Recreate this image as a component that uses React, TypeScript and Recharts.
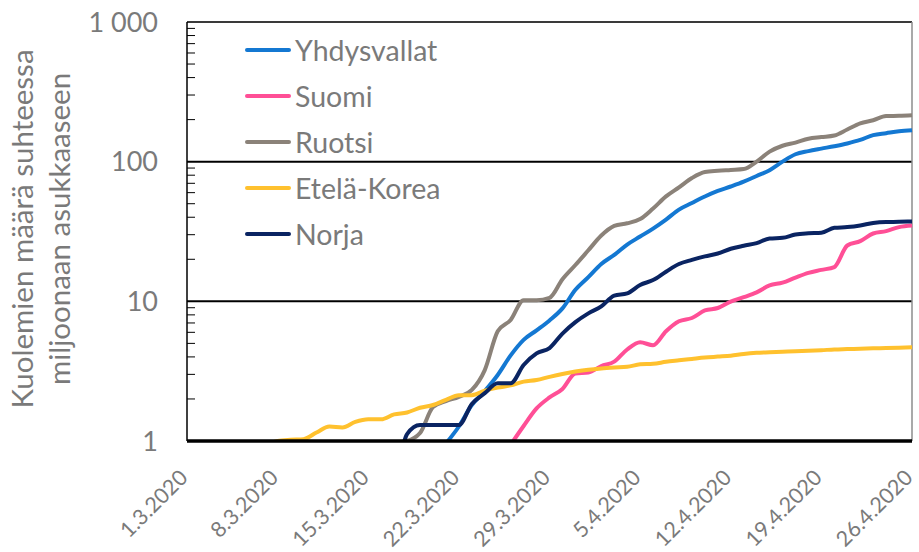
import { Legend, Line, LineChart, ReferenceLine, XAxis, YAxis } from 'recharts';

// Kuolemat miljoonaa asukasta kohden, 1.3.–26.4.2020 (luettu kuvasta)
const dates = [
  '1.3.2020', '2.3.2020', '3.3.2020', '4.3.2020', '5.3.2020', '6.3.2020', '7.3.2020',
  '8.3.2020', '9.3.2020', '10.3.2020', '11.3.2020', '12.3.2020', '13.3.2020', '14.3.2020',
  '15.3.2020', '16.3.2020', '17.3.2020', '18.3.2020', '19.3.2020', '20.3.2020', '21.3.2020',
  '22.3.2020', '23.3.2020', '24.3.2020', '25.3.2020', '26.3.2020', '27.3.2020', '28.3.2020',
  '29.3.2020', '30.3.2020', '31.3.2020', '1.4.2020', '2.4.2020', '3.4.2020', '4.4.2020',
  '5.4.2020', '6.4.2020', '7.4.2020', '8.4.2020', '9.4.2020', '10.4.2020', '11.4.2020',
  '12.4.2020', '13.4.2020', '14.4.2020', '15.4.2020', '16.4.2020', '17.4.2020', '18.4.2020',
  '19.4.2020', '20.4.2020', '21.4.2020', '22.4.2020', '23.4.2020', '24.4.2020', '25.4.2020',
  '26.4.2020',
];

const n = null;

const yhdysvallat = [
  n, n, n, n, n, n, n, n, n, n, n, n, n, n, n, n, n, n, n, n,
  0.96, 1.27, 1.81, 2.28, 2.97, 4.1, 5.3, 6.2, 7.3, 8.9,
  12.1, 14.9, 18.5, 21.5, 25.5, 29.1, 33.2, 38.5, 45.4, 50.6,
  56.3, 61.7, 66.4, 71.9, 79.0, 86.9, 100, 113, 119, 124,
  129, 135, 143, 155, 160, 165, 168,
];

const suomi = [
  n, n, n, n, n, n, n, n, n, n, n, n, n, n, n, n, n, n, n, n, n, n, n, n, n,
  0.94, 1.28, 1.71, 2.05, 2.36,
  3.04, 3.09, 3.44, 3.7, 4.52, 5.09, 4.85, 6.11, 7.2, 7.6,
  8.6, 8.96, 9.96, 10.7, 11.6, 13.0, 13.6, 14.8, 16.0, 16.8,
  17.6, 25.1, 27.0, 30.6, 31.8, 34.0, 34.9,
];

const ruotsi = [
  n, n, n, n, n, n, n, n, n, n, n, n, n, n, n, n,
  0.97, 1.0, 1.14, 1.75,
  1.93, 2.07, 2.32, 3.22, 6.1, 7.36, 10.2, 10.2, 10.6, 14.4,
  18.2, 23.2, 29.6, 34.7, 36.2, 38.8, 46.2, 56.4, 65.4, 76.3,
  84.3, 86.0, 87.2, 88.5, 100.2, 118, 130, 137, 146, 150,
  154, 170, 188, 198, 212, 213, 215,
];

const etelaKorea = [
  n, n, n, n, n, n,
  0.93, 1.0, 1.02, 1.03,
  1.15, 1.27, 1.25, 1.37, 1.43, 1.43, 1.55, 1.6, 1.73, 1.81,
  1.97, 2.13, 2.13, 2.29, 2.41, 2.5, 2.66, 2.73, 2.88, 3.02,
  3.14, 3.24, 3.31, 3.36, 3.4, 3.54, 3.57, 3.69, 3.78, 3.87,
  3.96, 4.02, 4.08, 4.2, 4.28, 4.32, 4.36, 4.4, 4.43, 4.47,
  4.52, 4.55, 4.58, 4.61, 4.63, 4.66, 4.69,
];

const norja = [
  n, n, n, n, n, n, n, n, n, n, n, n, n, n, n, n,
  0.37, 1.12, 1.3, 1.3,
  1.3, 1.3, 1.84, 2.2, 2.59, 2.59, 3.5, 4.24, 4.63, 5.88,
  7.1, 8.2, 9.2, 11.0, 11.4, 13.1, 14.2, 16.3, 18.5, 19.8,
  21.0, 22.0, 23.8, 25.0, 26.1, 28.2, 28.5, 30.1, 30.7, 31.0,
  33.6, 34.0, 34.9, 36.4, 37.0, 37.1, 37.3,
];

const yTicks = [
  1, 2, 3, 4, 5, 6, 7, 8, 9,
  10, 20, 30, 40, 50, 60, 70, 80, 90,
  100, 200, 300, 400, 500, 600, 700, 800, 900,
  1000,
];
const yLabels: Record<number, string> = { 1: '1', 10: '10', 100: '100', 1000: '1 000' };

const series = [
  { key: 'yhdysvallat', name: 'Yhdysvallat', color: '#1478d2', values: yhdysvallat },
  { key: 'suomi', name: 'Suomi', color: '#ff4f96', values: suomi },
  { key: 'ruotsi', name: 'Ruotsi', color: '#8b8279', values: ruotsi },
  { key: 'etelaKorea', name: 'Etelä-Korea', color: '#ffc12e', values: etelaKorea },
  { key: 'norja', name: 'Norja', color: '#0a2462', values: norja },
];

const rows = dates.map((date, i) => {
  const row: Record<string, string | number | null> = { date };
  series.forEach((s) => {
    row[s.key] = s.values[i];
  });
  return row;
});

const FONT = 'Lato, "Open Sans", sans-serif';
const TEXT = '#7a7a7a';

function YTick({ x, y, payload }: any) {
  const label = yLabels[payload.value];
  if (label) {
    return (
      <text x={x - 29} y={y} dy="0.36em" textAnchor="end" fill={TEXT} fontSize={27} fontFamily={FONT}>
        {label}
      </text>
    );
  }
  return <line x1={x} x2={x + 8} y1={y} y2={y} stroke="#000" strokeWidth={1} />;
}

function XTick({ x, y, payload }: any) {
  return (
    <text
      transform={`translate(${x + 2},${y + 38}) rotate(-45)`}
      textAnchor="end"
      fill={TEXT}
      fontSize={21.5}
      fontFamily={FONT}
    >
      {payload.value}
    </text>
  );
}

function YTitle() {
  return (
    <g fill={TEXT} fontSize={29.5} fontFamily={FONT}>
      <text transform="translate(33,229) rotate(-90)" textAnchor="middle">
        Kuolemien määrä suhteessa
      </text>
      <text transform="translate(70,229) rotate(-90)" textAnchor="middle">
        miljoonaan asukkaaseen
      </text>
    </g>
  );
}

function LegendBox() {
  return (
    <div style={{ fontFamily: FONT, fontSize: 28.5, color: TEXT }}>
      {series.map((s) => (
        <div key={s.key} style={{ display: 'flex', alignItems: 'center', height: 46 }}>
          <span style={{ width: 46, height: 4, background: s.color, borderRadius: 2 }} />
          <span style={{ marginLeft: 4, lineHeight: 1 }}>{s.name}</span>
        </div>
      ))}
    </div>
  );
}

export default function App() {
  return (
    <div style={{ position: 'absolute', left: 0, top: 0, background: '#fff' }}>
      <LineChart width={919} height={552} data={rows} margin={{ top: 22, right: 7, left: 0, bottom: 0 }}>
        <ReferenceLine y={10} stroke="#000" strokeWidth={2} />
        <ReferenceLine y={100} stroke="#000" strokeWidth={2} />
        <ReferenceLine y={1000} stroke="#3a3a3a" strokeWidth={2} />
        <ReferenceLine x="26.4.2020" stroke="#8c8c8c" strokeWidth={1.5} />
        {series.map((s) => (
          <Line
            key={s.key}
            dataKey={s.key}
            name={s.name}
            type="monotone"
            stroke={s.color}
            strokeWidth={4}
            dot={false}
            activeDot={false}
            isAnimationActive={false}
          />
        ))}
        <XAxis
          dataKey="date"
          interval={6}
          height={111}
          tickSize={0}
          tickMargin={0}
          tick={<XTick />}
          axisLine={{ stroke: '#000', strokeWidth: 3.5 }}
        />
        <YAxis
          scale="log"
          domain={[1, 1000]}
          allowDataOverflow
          ticks={yTicks}
          interval={0}
          width={187}
          tickSize={0}
          tickMargin={0}
          tick={<YTick />}
          axisLine={{ stroke: '#000', strokeWidth: 1.5 }}
          label={{ content: () => <YTitle /> }}
        />
        <Legend
          layout="vertical"
          align="center"
          verticalAlign="middle"
          wrapperStyle={{ left: 245, top: 27, width: 'auto' }}
          content={() => <LegendBox />}
        />
      </LineChart>
    </div>
  );
}
